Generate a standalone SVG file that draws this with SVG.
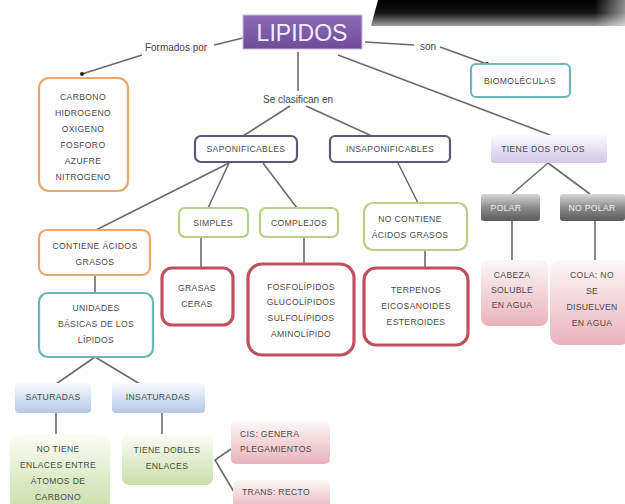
<svg xmlns="http://www.w3.org/2000/svg" width="625" height="504" viewBox="0 0 625 504">
<defs>
<linearGradient id="blk" x1="0" y1="0" x2="0" y2="1"><stop offset="0" stop-color="#000"/><stop offset="0.5" stop-color="#141414"/><stop offset="1" stop-color="#a0a0a0"/></linearGradient>
<linearGradient id="blkR" x1="0" y1="0" x2="1" y2="0"><stop offset="0.88" stop-color="#fff" stop-opacity="0"/><stop offset="1" stop-color="#fff" stop-opacity="0.55"/></linearGradient>
<linearGradient id="purp" x1="0" y1="0" x2="0" y2="1"><stop offset="0" stop-color="#8d6bb4"/><stop offset="1" stop-color="#6e4c99"/></linearGradient>
<linearGradient id="lav" x1="0" y1="0" x2="0" y2="1"><stop offset="0" stop-color="#fbfaff"/><stop offset="1" stop-color="#d2c6ea"/></linearGradient>
<linearGradient id="gray" x1="0" y1="0" x2="0" y2="1"><stop offset="0" stop-color="#d8d8d8"/><stop offset="0.5" stop-color="#8c8c8c"/><stop offset="1" stop-color="#5a5a5a"/></linearGradient>
<linearGradient id="pink" x1="0" y1="0" x2="0" y2="1"><stop offset="0" stop-color="#fdf7f7"/><stop offset="1" stop-color="#e9b3ba"/></linearGradient>
<linearGradient id="blue" x1="0" y1="0" x2="0" y2="1"><stop offset="0" stop-color="#f8fbff"/><stop offset="1" stop-color="#b4c8e4"/></linearGradient>
<linearGradient id="green" x1="0" y1="0" x2="0" y2="1"><stop offset="0" stop-color="#fbfdf7"/><stop offset="1" stop-color="#c8dfa8"/></linearGradient>
</defs>
<style>
.t{font-family:"Liberation Sans",Arial,sans-serif;font-size:8.6px;letter-spacing:0.35px;fill:#4a4a4a;text-anchor:middle}
.lbl{font-family:"Liberation Sans",Arial,sans-serif;font-size:10px;fill:#444;text-anchor:middle}
.ln{stroke:#6b6b6b;stroke-width:1.6;fill:none}
.or{fill:#fff;stroke:#e9a86b;stroke-width:2.2}
.tl{fill:#fff;stroke:#6ab8be;stroke-width:2.2}
.pu{fill:#fff;stroke:#5c5878;stroke-width:2.2}
.gr{fill:#fff;stroke:#b7cf86;stroke-width:2.2}
.rd{fill:#fff;stroke:#c0505e;stroke-width:3.2}
</style>
<rect width="625" height="504" fill="#fff"/>
<polygon points="378,0 625,0 625,26 371,26" fill="url(#blk)"/>
<rect x="371" y="0" width="254" height="26" fill="url(#blkR)"/>

<g id="connectors">
<line class="ln" x1="243" y1="38" x2="214" y2="45"/>
<line class="ln" x1="142" y1="55" x2="82" y2="74"/>
<circle cx="82" cy="74" r="2" fill="#222"/>
<line class="ln" x1="365" y1="42" x2="414" y2="45"/>
<line class="ln" x1="440" y1="47" x2="487" y2="64"/>
<circle cx="487" cy="64" r="2" fill="#222"/>
<line class="ln" x1="298" y1="52" x2="298" y2="91"/>
<line class="ln" x1="290" y1="106" x2="243" y2="136"/>
<line class="ln" x1="306" y1="106" x2="372" y2="136"/>
<line class="ln" x1="338" y1="55" x2="550" y2="135"/>
<line class="ln" x1="229" y1="163" x2="96" y2="230"/>
<line class="ln" x1="229" y1="163" x2="208" y2="208"/>
<line class="ln" x1="263" y1="163" x2="297" y2="208"/>
<line class="ln" x1="398" y1="163" x2="418" y2="203"/>
<line class="ln" x1="548" y1="163" x2="512" y2="194"/>
<line class="ln" x1="548" y1="163" x2="590" y2="194"/>
<line class="ln" x1="201" y1="237" x2="201" y2="268"/>
<line class="ln" x1="304" y1="237" x2="304" y2="264"/>
<line class="ln" x1="425" y1="250" x2="425" y2="268"/>
<line class="ln" x1="512" y1="220" x2="512" y2="260"/>
<line class="ln" x1="595" y1="220" x2="595" y2="260"/>
<line class="ln" x1="95" y1="275" x2="95" y2="293"/>
<line class="ln" x1="95" y1="357" x2="56" y2="384"/>
<line class="ln" x1="95" y1="357" x2="140" y2="384"/>
<line class="ln" x1="56" y1="413" x2="56" y2="434"/>
<line class="ln" x1="162" y1="413" x2="162" y2="434"/>
<polyline class="ln" points="231,449 215,460 234,492"/>
</g>

<g id="lipidos">
<rect x="243" y="15" width="119" height="34" fill="url(#purp)" stroke="#c9b8de" stroke-width="1"/>
<text x="302" y="41" font-family="Liberation Sans,Arial,sans-serif" font-size="23" fill="#f3ecff" text-anchor="middle">LIPIDOS</text>
</g>
<g id="lbl-formados"><text class="lbl" x="176" y="51">Formados por</text></g>
<g id="lbl-son"><text class="lbl" x="428" y="50">son</text></g>
<g id="lbl-clasifican"><text class="lbl" x="298" y="103">Se clasifican en</text></g>

<g id="elementos">
<rect class="or" x="39" y="78" width="89" height="113" rx="10"/>
<text class="t" x="83" y="100">CARBONO</text>
<text class="t" x="83" y="116">HIDROGENO</text>
<text class="t" x="83" y="132">OXIGENO</text>
<text class="t" x="83" y="148">FOSFORO</text>
<text class="t" x="83" y="164">AZUFRE</text>
<text class="t" x="83" y="180">NITROGENO</text>
</g>
<g id="biomoleculas">
<rect class="tl" x="471" y="64" width="99" height="33" rx="5"/>
<text class="t" x="520" y="84">BIOMOLÉCULAS</text>
</g>
<g id="saponificables">
<rect class="pu" x="195" y="136" width="102" height="26" rx="6"/>
<text class="t" x="246" y="152">SAPONIFICABLES</text>
</g>
<g id="insaponificables">
<rect class="pu" x="330" y="136" width="120" height="26" rx="5"/>
<text class="t" x="390" y="152">INSAPONIFICABLES</text>
</g>
<g id="dospolos">
<rect x="491" y="135" width="116" height="28" rx="3" fill="url(#lav)"/>
<text class="t" x="543" y="152">TIENE DOS POLOS</text>
</g>
<g id="simples">
<rect class="gr" x="179" y="208" width="69" height="29" rx="6"/>
<text class="t" x="213" y="226">SIMPLES</text>
</g>
<g id="complejos">
<rect class="gr" x="260" y="208" width="78" height="29" rx="6"/>
<text class="t" x="299" y="226">COMPLEJOS</text>
</g>
<g id="nocontiene">
<rect class="gr" x="364" y="203" width="103" height="47" rx="9"/>
<text class="t" x="410" y="222">NO CONTIENE</text>
<text class="t" x="410" y="238">ÁCIDOS GRASOS</text>
</g>
<g id="polar">
<rect x="481" y="194" width="59" height="27" rx="3" fill="url(#gray)"/>
<text class="t" x="506" y="211" style="fill:#eee">POLAR</text>
</g>
<g id="nopolar">
<rect x="560" y="194" width="65" height="27" rx="3" fill="url(#gray)"/>
<text class="t" x="592" y="211" style="fill:#eee">NO POLAR</text>
</g>
<g id="cabeza">
<rect x="481" y="260" width="67" height="66" rx="8" fill="url(#pink)"/>
<text class="t" x="512" y="278">CABEZA</text>
<text class="t" x="512" y="293">SOLUBLE</text>
<text class="t" x="512" y="308">EN AGUA</text>
</g>
<g id="cola">
<rect x="550" y="260" width="80" height="85" rx="10" fill="url(#pink)"/>
<text class="t" x="592" y="278">COLA: NO</text>
<text class="t" x="592" y="294">SE</text>
<text class="t" x="592" y="310">DISUELVEN</text>
<text class="t" x="592" y="326">EN AGUA</text>
</g>
<g id="contiene">
<rect class="or" x="39" y="230" width="111" height="45" rx="8"/>
<text class="t" x="95" y="249">CONTIENE ÁCIDOS</text>
<text class="t" x="95" y="265">GRASOS</text>
</g>
<g id="unidades">
<rect class="tl" x="39" y="293" width="114" height="64" rx="9"/>
<text class="t" x="96" y="311">UNIDADES</text>
<text class="t" x="96" y="327">BÁSICAS DE LOS</text>
<text class="t" x="96" y="343">LÍPIDOS</text>
</g>
<g id="grasas">
<rect class="rd" x="162" y="268" width="71" height="57" rx="10"/>
<text class="t" x="197" y="291">GRASAS</text>
<text class="t" x="197" y="307">CERAS</text>
</g>
<g id="fosfolipidos">
<rect class="rd" x="248" y="264" width="106" height="91" rx="14"/>
<text class="t" x="301" y="290">FOSFOLÍPIDOS</text>
<text class="t" x="301" y="305">GLUCOLÍPIDOS</text>
<text class="t" x="301" y="321">SULFOLÍPIDOS</text>
<text class="t" x="301" y="337">AMINOLÍPIDO</text>
</g>
<g id="terpenos">
<rect class="rd" x="364" y="268" width="104" height="77" rx="12"/>
<text class="t" x="416" y="293">TERPENOS</text>
<text class="t" x="416" y="309">EICOSANOIDES</text>
<text class="t" x="416" y="325">ESTEROIDES</text>
</g>
<g id="saturadas">
<rect x="15" y="383" width="76" height="30" rx="4" fill="url(#blue)"/>
<text class="t" x="53" y="400">SATURADAS</text>
</g>
<g id="insaturadas">
<rect x="112" y="383" width="93" height="30" rx="4" fill="url(#blue)"/>
<text class="t" x="158" y="400">INSATURADAS</text>
</g>
<g id="notiene">
<rect x="10" y="434" width="100" height="76" rx="8" fill="url(#green)"/>
<text class="t" x="58" y="452">NO TIENE</text>
<text class="t" x="58" y="468">ENLACES ENTRE</text>
<text class="t" x="58" y="484">ÁTOMOS DE</text>
<text class="t" x="58" y="500">CARBONO</text>
</g>
<g id="dobles">
<rect x="122" y="434" width="91" height="51" rx="7" fill="url(#green)"/>
<text class="t" x="167" y="453">TIENE DOBLES</text>
<text class="t" x="167" y="469">ENLACES</text>
</g>
<g id="cis">
<rect x="231" y="421" width="99" height="43" rx="5" fill="url(#pink)"/>
<text class="t" x="240" y="437" style="text-anchor:start">CIS: GENERA</text>
<text class="t" x="240" y="452" style="text-anchor:start">PLEGAMIENTOS</text>
</g>
<g id="trans">
<rect x="233" y="480" width="97" height="30" rx="5" fill="url(#pink)"/>
<text class="t" x="242" y="495" style="text-anchor:start">TRANS: RECTO</text>
</g>
</svg>
